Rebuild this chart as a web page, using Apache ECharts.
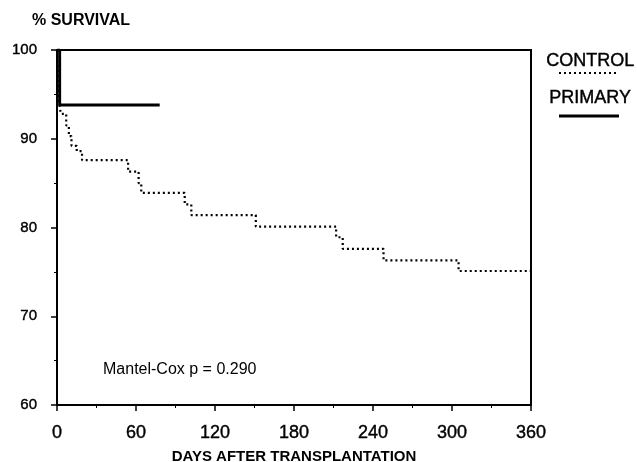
<!DOCTYPE html>
<html>
<head>
<meta charset="utf-8">
<script src="https://cdn.jsdelivr.net/npm/echarts@6/dist/echarts.min.js"></script>
<style>
  html, body { margin: 0; padding: 0; background: #fff; }
  #chart { width: 637px; height: 462px; }
</style>
</head>
<body>
<div id="chart"></div>
<script>
// Kaplan-Meier steps: each point is (day of event, survival after it)
const controlDays = [0, 1.5, 3, 7, 9, 11, 15, 19, 54, 62, 64, 97, 102, 151, 212, 217, 248, 305, 360]
const controlSurvival = [100, 94, 92.8, 91.5, 90.3, 89.2, 88.6, 87.6, 86.3, 85.0, 83.9, 82.6, 81.4, 80.1, 78.9, 77.6, 76.3, 75.1, 75.1]
const primaryDays = [0, 2, 78]
const primarySurvival = [100, 93.8, 93.8]

const xTicks = [0, 60, 120, 180, 240, 300, 360]
const yTicks = [60, 70, 80, 90, 100]

const fontFamily = '"Liberation Sans", Arial, sans-serif'

function pairs(xs, ys) {
  return xs.map((x, i) => [x, ys[i]])
}

const chart = echarts.init(document.getElementById('chart'))

chart.setOption({
  animation: false,
  backgroundColor: '#fff',
  textStyle: { fontFamily: fontFamily, color: '#000' },
  title: {
    text: '% SURVIVAL',
    left: 27,
    top: 8,
    textStyle: { fontSize: 16, fontWeight: 'bold', color: '#000', fontFamily: fontFamily }
  },
  grid: {
    left: 57,
    right: 106,
    top: 50,
    bottom: 57,
    outerBoundsMode: 'none',
    containLabel: false,
    show: true,
    borderColor: '#000',
    borderWidth: 2,
    backgroundColor: 'transparent'
  },
  xAxis: {
    type: 'value',
    min: xTicks[0],
    max: xTicks[xTicks.length - 1],
    interval: 60,
    name: 'DAYS AFTER TRANSPLANTATION',
    nameLocation: 'middle',
    nameGap: 44,
    nameTextStyle: { fontSize: 15, fontWeight: 'bold', color: '#000' },
    axisLine: { lineStyle: { color: '#000', width: 2 } },
    axisTick: { length: 6, lineStyle: { color: '#000', width: 1.5 } },
    minorTick: { show: true, splitNumber: 2, length: 3, lineStyle: { color: '#000', width: 1 } },
    axisLabel: { fontSize: 18, color: '#000', margin: 19, textBorderColor: '#000', textBorderWidth: 0.4 },
    splitLine: { show: false }
  },
  yAxis: {
    type: 'value',
    min: yTicks[0],
    max: yTicks[yTicks.length - 1],
    interval: 10,
    axisLine: { lineStyle: { color: '#000', width: 2 } },
    axisTick: { length: 6, lineStyle: { color: '#000', width: 1.5 } },
    minorTick: { show: true, splitNumber: 2, length: 3, lineStyle: { color: '#000', width: 1 } },
    axisLabel: { fontSize: 15, color: '#000', margin: 20, textBorderColor: '#000', textBorderWidth: 0.4 },
    splitLine: { show: false }
  },
  series: [
    {
      name: 'CONTROL',
      type: 'line',
      step: 'end',
      symbol: 'none',
      data: pairs(controlDays, controlSurvival),
      lineStyle: { color: '#000', width: 2.2, type: [2, 3] },
      z: 3
    },
    {
      name: 'PRIMARY',
      type: 'line',
      step: 'end',
      symbol: 'none',
      data: pairs(primaryDays, primarySurvival),
      lineStyle: { color: '#000', width: 3 },
      z: 4
    }
  ],
  graphic: [
    {
      type: 'text',
      left: 546,
      top: 52,
      style: { text: 'CONTROL', font: '18px ' + fontFamily, fill: '#000', stroke: '#000', lineWidth: 0.4 }
    },
    {
      type: 'line',
      shape: { x1: 559, y1: 73, x2: 618, y2: 73 },
      style: { stroke: '#000', lineWidth: 2.2, lineDash: [2, 3] }
    },
    {
      type: 'text',
      left: 549,
      top: 89,
      style: { text: 'PRIMARY', font: '18px ' + fontFamily, fill: '#000', stroke: '#000', lineWidth: 0.4 }
    },
    {
      type: 'line',
      shape: { x1: 559, y1: 116, x2: 619, y2: 116 },
      style: { stroke: '#000', lineWidth: 3 }
    },
    {
      type: 'text',
      left: 103,
      top: 362,
      style: { text: 'Mantel-Cox p = 0.290', font: '16px ' + fontFamily, fill: '#000' }
    }
  ]
})
</script>
</body>
</html>
